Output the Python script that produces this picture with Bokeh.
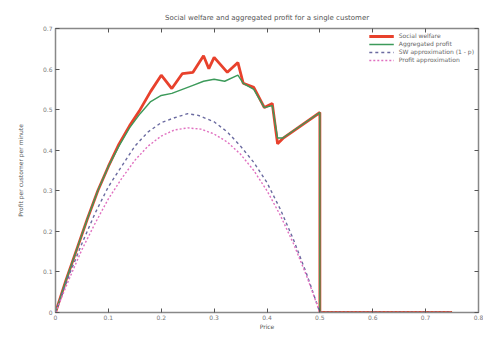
from bokeh.plotting import figure
from bokeh.models import LinearAxis, Range1d, FixedTicker, Legend, LegendItem
from bokeh.embed import file_html
from bokeh.resources import INLINE

x_ticks = [0, 0.1, 0.2, 0.3, 0.4, 0.5, 0.6, 0.7, 0.8]
y_ticks = [0, 0.1, 0.2, 0.3, 0.4, 0.5, 0.6, 0.7]

red_x = [0, 0.02, 0.04, 0.06, 0.08, 0.10, 0.12, 0.14, 0.16, 0.18, 0.20, 0.22, 0.24, 0.26, 0.28, 0.29, 0.30,
         0.325, 0.345, 0.355, 0.375, 0.395, 0.41, 0.42, 0.43, 0.50, 0.50, 0.75]
red_y = [0, 0.08, 0.155, 0.23, 0.30, 0.36, 0.415, 0.46, 0.50, 0.545, 0.585, 0.552, 0.589, 0.592, 0.633, 0.601, 0.629,
         0.592, 0.616, 0.565, 0.555, 0.505, 0.515, 0.416, 0.429, 0.493, 0, 0]

green_x = [0, 0.02, 0.04, 0.06, 0.08, 0.10, 0.12, 0.14, 0.16, 0.18, 0.20, 0.22, 0.24, 0.26, 0.28, 0.30, 0.32,
           0.345, 0.355, 0.375, 0.395, 0.41, 0.42, 0.43, 0.50, 0.50, 0.75]
green_y = [0, 0.08, 0.155, 0.23, 0.30, 0.36, 0.41, 0.455, 0.49, 0.52, 0.535, 0.54, 0.55, 0.56, 0.57, 0.575, 0.57,
           0.585, 0.565, 0.55, 0.505, 0.51, 0.43, 0.43, 0.493, 0, 0]

blue_x = [0, 0.025, 0.05, 0.075, 0.1, 0.125, 0.15, 0.175, 0.2, 0.225, 0.25, 0.27, 0.3, 0.325, 0.35, 0.375,
          0.4, 0.425, 0.45, 0.475, 0.5, 0.75]
blue_y = [0, 0.09, 0.17, 0.245, 0.31, 0.36, 0.41, 0.445, 0.468, 0.48, 0.49, 0.486, 0.47, 0.445, 0.41, 0.37,
          0.32, 0.255, 0.18, 0.095, 0, 0]

pink_x = [0, 0.025, 0.05, 0.075, 0.1, 0.125, 0.15, 0.175, 0.2, 0.225, 0.25, 0.275, 0.3, 0.325, 0.35, 0.375,
          0.4, 0.425, 0.45, 0.475, 0.5, 0.75]
pink_y = [0, 0.08, 0.155, 0.22, 0.28, 0.33, 0.375, 0.41, 0.435, 0.45, 0.455, 0.452, 0.44, 0.42, 0.39, 0.35,
          0.3, 0.24, 0.17, 0.09, 0, 0]

labels = ["Social welfare", "Aggregated profit", "SW approximation (1 - p)", "Profit approximation"]

FONT = "DejaVu Sans"
GRAY = "#888888"

p = figure(width=483, height=342, output_backend="svg", toolbar_location=None,
           x_range=Range1d(0, 0.8), y_range=Range1d(0, 0.7),
           min_border_left=55, min_border_right=5, min_border_top=28, min_border_bottom=30,
           title="Social welfare and aggregated profit for a single customer")
p.title.align = "center"
p.title.text_font = FONT
p.title.text_font_size = "7px"
p.title.text_font_style = "normal"
p.title.text_color = "#555555"
p.title.offset = 0
p.title.standoff = 14

p.grid.visible = False
p.outline_line_color = GRAY
p.outline_line_width = 1.5

for ax in (p.xaxis[0], p.yaxis[0]):
    ax.major_tick_in = 4
    ax.major_tick_out = 0
    ax.minor_tick_line_color = None
    ax.axis_line_color = GRAY
    ax.major_tick_line_color = "#555555"
    ax.major_label_text_font = FONT
    ax.major_label_text_font_size = "6px"
    ax.major_label_text_color = "#777777"
    ax.axis_label_text_font = FONT
    ax.axis_label_text_font_size = "6px"
    ax.axis_label_text_font_style = "normal"
    ax.axis_label_text_color = "#555555"
    ax.major_label_standoff = 3
    ax.axis_label_standoff = 6
p.xaxis[0].ticker = FixedTicker(ticks=x_ticks)
p.yaxis[0].ticker = FixedTicker(ticks=y_ticks)
p.xaxis.axis_label = "Price"
p.yaxis.axis_label = "Profit per customer per minute"
p.xaxis[0].axis_label_standoff = 0
p.xaxis[0].major_label_standoff = 2
p.yaxis[0].axis_label_standoff = 16

for loc, ticks in (("above", x_ticks), ("right", y_ticks)):
    ax = LinearAxis(ticker=FixedTicker(ticks=ticks), major_tick_in=4, major_tick_out=0,
                    minor_tick_line_color=None, axis_line_color=GRAY,
                    major_tick_line_color="#555555",
                    major_label_overrides={t: "" for t in ticks},
                    major_label_standoff=0)
    p.add_layout(ax, loc)

r1 = p.line(red_x, red_y, line_color="#e8412c", line_width=2.8)
r2 = p.line(green_x, green_y, line_color="#3c9a5a", line_width=1.4)
r3 = p.line(blue_x, blue_y, line_color="#6a6aa0", line_width=1.4, line_dash="3 3")
r4 = p.line(pink_x, pink_y, line_color="#e070c0", line_width=1.4, line_dash="2 2")

legend = Legend(items=[LegendItem(label=l, renderers=[r]) for l, r in zip(labels, [r1, r2, r3, r4])],
                location="top_right", label_text_font=FONT, label_text_font_size="6px",
                label_text_color="#666666", glyph_width=25, glyph_height=6,
                label_height=6, spacing=1, padding=3, margin=4,
                background_fill_alpha=0, border_line_color=None)
p.add_layout(legend)

open("out.html", "w").write(file_html(p, INLINE))
